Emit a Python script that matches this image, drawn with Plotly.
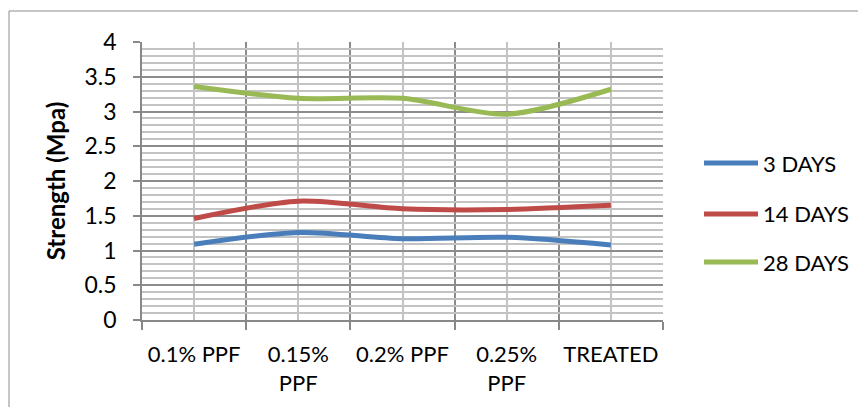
import plotly.graph_objects as go

categories = ["0.1% PPF", "0.15%<br>PPF", "0.2% PPF", "0.25%<br>PPF", "TREATED"]
days3 = [1.09, 1.26, 1.17, 1.19, 1.08]
days14 = [1.46, 1.71, 1.60, 1.59, 1.65]
days28 = [3.36, 3.19, 3.19, 2.96, 3.32]
series = [("3 DAYS", days3, "#4A7EBB"), ("14 DAYS", days14, "#BE4B48"), ("28 DAYS", days28, "#98B954")]
yticks = [0, 0.5, 1, 1.5, 2, 2.5, 3, 3.5, 4]
ytext = ["0", "0.5", "1", "1.5", "2", "2.5", "3", "3.5", "4"]

FONT = "Lato"
xpos = list(range(len(categories)))

# page has an 8px body margin; layout positions below are expressed in reference pixels
OFF = 8
L, R, T, B = 142, 663, 42, 320


def px(x):
    return (x - L) / (R - L)


def py(y):
    return (B - y) / (B - T)


fig = go.Figure()
for i, (name, vals, col) in enumerate(series):
    fig.add_trace(go.Scatter(x=xpos, y=vals, mode="lines", name=name,
                             line=dict(color=col, width=5, shape="spline", smoothing=0.8),
                             showlegend=False))

fig.update_layout(
    width=866, height=407,
    margin=dict(l=L - OFF, r=866 - (R - OFF), t=T - OFF, b=407 - (B - OFF), autoexpand=False),
    paper_bgcolor="white", plot_bgcolor="white",
    font=dict(family=FONT, size=22, color="black"),
    showlegend=False,
    xaxis=dict(range=[-0.5, 4.5], tickmode="array", tickvals=xpos, ticktext=categories,
               showgrid=True, gridcolor="#C3C3C3", gridwidth=1.5, ticks="",
               showline=True, linecolor="#888888", linewidth=1.5, zeroline=False,
               automargin=False, ticklabelstandoff=14,
               tickfont=dict(family=FONT, size=22),
               minor=dict(tick0=-0.5, dtick=1, showgrid=True, gridcolor="#8C8C8C", gridwidth=1.5,
                          ticks="outside", ticklen=8, tickcolor="#888888", tickwidth=1.5)),
    yaxis=dict(range=[0, 4], tickmode="array", tickvals=yticks, ticktext=ytext,
               showgrid=True, gridcolor="#8C8C8C", gridwidth=1.5,
               ticks="outside", ticklen=7, tickcolor="#888888", tickwidth=1.5,
               showline=True, linecolor="#888888", linewidth=1.5, zeroline=False,
               automargin=False, ticklabelstandoff=12,
               tickfont=dict(family=FONT, size=23),
               title=dict(text="<b>Strength (Mpa)</b>", font=dict(family=FONT, size=24), standoff=12),
               minor=dict(dtick=0.1, showgrid=True, gridcolor="#C3C3C3", gridwidth=1.5)),
)

# custom legend
leg_y = [163, 214, 262]
for (name, vals, col), yy in zip(series, leg_y):
    fig.add_shape(type="line", xref="paper", yref="paper",
                  x0=px(704), x1=px(758), y0=py(yy), y1=py(yy),
                  line=dict(color=col, width=5))
    fig.add_annotation(xref="paper", yref="paper", x=px(761), y=py(yy),
                       text=name, showarrow=False, xanchor="left", yanchor="middle",
                       font=dict(family=FONT, size=22, color="black"))

fig.add_shape(type="rect", xref="paper", yref="paper",
              x0=px(9), x1=px(890), y0=py(430), y1=py(11),
              line=dict(color="#8C8C8C", width=1), fillcolor="rgba(0,0,0,0)", layer="below")

fig.write_html("out.html")
